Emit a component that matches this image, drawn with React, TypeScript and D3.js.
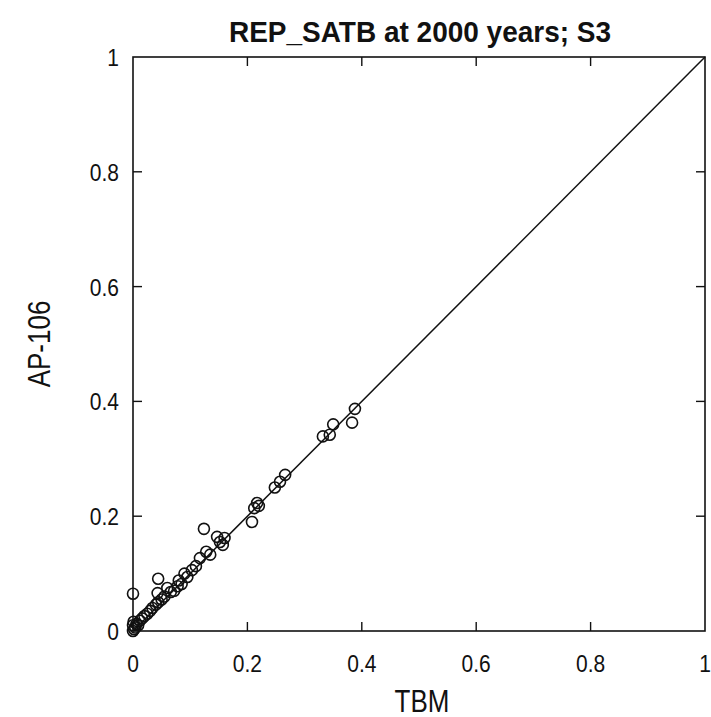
import React from 'react';
import * as d3 from 'd3';

// TBM (x) vs AP-106 (y)
const tbmValues = [
  0.0, 0.002, 0.004, 0.0, 0.001, 0.006, 0.009, 0.012, 0.016, 0.02,
  0.025, 0.03, 0.034, 0.04, 0.044, 0.05, 0.055, 0.0, 0.043, 0.044,
  0.06, 0.066, 0.072, 0.078, 0.08, 0.085, 0.09, 0.095, 0.103, 0.11,
  0.117, 0.124, 0.128, 0.135, 0.147, 0.152, 0.157, 0.16, 0.208, 0.212,
  0.217, 0.22, 0.248, 0.257, 0.266, 0.332, 0.344, 0.35, 0.383, 0.388,
];
const ap106Values = [
  0.0, 0.003, 0.006, 0.01, 0.016, 0.012, 0.01, 0.018, 0.022, 0.026,
  0.03, 0.035, 0.04, 0.046, 0.05, 0.055, 0.06, 0.065, 0.066, 0.091,
  0.075, 0.068, 0.07, 0.078, 0.088, 0.082, 0.1, 0.094, 0.106, 0.113,
  0.127, 0.178, 0.138, 0.133, 0.164, 0.155, 0.15, 0.162, 0.19, 0.214,
  0.223, 0.218, 0.25, 0.26, 0.272, 0.339, 0.342, 0.36, 0.363, 0.387,
];
const tickValues = [0, 0.2, 0.4, 0.6, 0.8, 1];

const width = 711;
const height = 717;
const margin = { top: 57, right: 6, bottom: 86, left: 133 };
const font = "'Liberation Sans', Arial, sans-serif";
const stretch = 1.18; // scanned text is taller than it is wide

const App: React.FC = () => {
  const x = d3.scaleLinear().domain([0, 1]).range([margin.left, width - margin.right]);
  const y = d3.scaleLinear().domain([0, 1]).range([height - margin.bottom, margin.top]);
  const fmt = (d: number) => (d === 0 || d === 1 ? String(d) : d.toFixed(1));
  const tickLen = 9;
  const x0 = x(0), x1 = x(1), y0 = y(0), y1 = y(1);

  return (
    <svg
      width={width}
      height={height}
      style={{ position: 'absolute', left: 0, top: 0, background: '#fff' }}
    >
      <text
        transform={`translate(420,42) scale(1,1.08)`}
        textAnchor="middle"
        fontFamily={font}
        fontWeight="bold"
        fontSize={28}
        fill="#111"
      >
        REP_SATB at 2000 years; S3
      </text>

      {/* frame */}
      <rect x={x0} y={y1} width={x1 - x0} height={y0 - y1} fill="none" stroke="#111" strokeWidth={1.6} />

      {/* inward ticks on all four sides */}
      {tickValues.slice(1, -1).map(t => (
        <g key={'t' + t} stroke="#111" strokeWidth={1.4}>
          <line x1={x(t)} x2={x(t)} y1={y0} y2={y0 - tickLen} />
          <line x1={x(t)} x2={x(t)} y1={y1} y2={y1 + tickLen} />
          <line x1={x0} x2={x0 + tickLen} y1={y(t)} y2={y(t)} />
          <line x1={x1} x2={x1 - tickLen} y1={y(t)} y2={y(t)} />
        </g>
      ))}

      {/* tick labels */}
      {tickValues.map(t => (
        <text
          key={'xl' + t}
          transform={`translate(${x(t)},${y0 + 41}) scale(1,${stretch})`}
          textAnchor="middle"
          fontFamily={font}
          fontSize={21}
          fill="#111"
        >
          {fmt(t)}
        </text>
      ))}
      {tickValues.map(t => (
        <text
          key={'yl' + t}
          transform={`translate(${x0 - 14},${y(t) + 9}) scale(1,${stretch})`}
          textAnchor="end"
          fontFamily={font}
          fontSize={21}
          fill="#111"
        >
          {fmt(t)}
        </text>
      ))}

      {/* 1:1 line */}
      <line x1={x(0)} y1={y(0)} x2={x(1)} y2={y(1)} stroke="#111" strokeWidth={1.5} />

      {/* points */}
      {tbmValues.map((v, i) => (
        <circle
          key={i}
          cx={x(v)}
          cy={y(ap106Values[i])}
          r={5.5}
          fill="none"
          stroke="#111"
          strokeWidth={1.6}
        />
      ))}

      <text
        transform={`translate(422,712) scale(1,${stretch})`}
        textAnchor="middle"
        fontFamily={font}
        fontSize={26}
        fill="#111"
      >
        TBM
      </text>
      <text
        transform={`translate(50,${(y0 + y1) / 2}) rotate(-90) scale(1,${stretch})`}
        textAnchor="middle"
        fontFamily={font}
        fontSize={26}
        fill="#111"
      >
        AP-106
      </text>
    </svg>
  );
};

export default App;
